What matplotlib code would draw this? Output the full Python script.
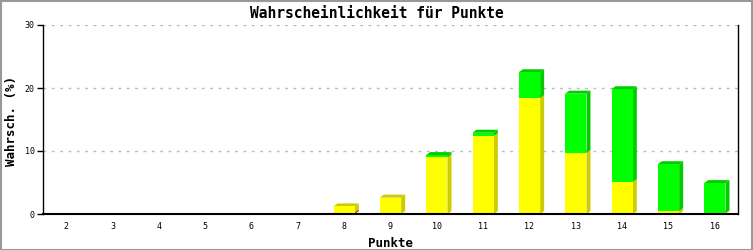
import matplotlib
matplotlib.use("Agg")
import matplotlib.pyplot as plt
from matplotlib.patches import Polygon, Rectangle
import numpy as np

# data (percent)
punkte = [2, 3, 4, 5, 6, 7, 8, 9, 10, 11, 12, 13, 14, 15, 16]
rot = [0, 0, 0, 0, 0, 0, 0.2, 0, 0, 0, 0, 0, 0, 0, 0]
gelb = [0, 0, 0, 0, 0, 0, 1.0, 2.6, 9.0, 12.4, 18.4, 9.7, 5.1, 0.5, 0.15]
gruen = [0, 0, 0, 0, 0, 0, 0, 0, 0.35, 0.5, 4.1, 9.4, 14.7, 7.4, 4.75]

series = [(rot, "#ff0000", "#cc0000"),
          (gelb, "#ffff00", "#cccc00"),
          (gruen, "#00ff00", "#00cc00")]

W, H = 753, 250
fig = plt.figure(figsize=(W / 100, H / 100), dpi=100)
fig.patch.set_facecolor("white")
# gray frame around the picture
fig.add_artist(Rectangle((0.5 / W, 0.5 / H), 1 - 1.5 / W, 1 - 1.5 / H,
                         transform=fig.transFigure, fill=False,
                         edgecolor="#999999", lw=1.5))

ax = fig.add_axes([43 / W, 36 / H, 695 / W, 189 / H])
ax.set_xlim(-0.5, len(punkte) - 0.5)
ax.set_ylim(0, 30)

# depth of the fake 3d effect: 4px right, 3px up
dx = 4 / (695 / len(punkte))
dy = 3 / (189 / 30)
bw = 0.46

z = 2
x = np.arange(len(punkte))
for i in x:
    bottom = 0
    for vals, col, dark in series:
        v = vals[i]
        if v <= 0:
            continue
        x0, x1 = i - bw / 2, i + bw / 2
        y0, y1 = bottom, bottom + v
        ax.add_patch(Polygon([(x1, y0), (x1 + dx, y0 + dy), (x1 + dx, y1 + dy), (x1, y1)],
                             closed=True, facecolor=dark, edgecolor="none", zorder=z))
        ax.add_patch(Polygon([(x0, y1), (x0 + dx, y1 + dy), (x1 + dx, y1 + dy), (x1, y1)],
                             closed=True, facecolor=dark, edgecolor="none", zorder=z))
        ax.add_patch(Rectangle((x0, y0), bw, v, facecolor=col, edgecolor="none", zorder=z + 0.5))
        z += 1
        bottom = y1

mono = "DejaVu Sans Mono"
ax.set_xticks(x)
ax.set_xticklabels([str(p) for p in punkte], fontsize=6, family=mono)
ax.set_yticks([0, 10, 20, 30])
ax.set_yticklabels(["0", "10", "20", "30"], fontsize=6, family=mono)
ax.tick_params(axis="x", length=0, pad=6)
ax.tick_params(axis="y", length=4, width=1, pad=2, direction="out")

for y in [10, 20, 30]:
    ax.axhline(y, color="#bbbbbb", lw=1, ls=(0, (2, 4)), zorder=1)

ax.spines["top"].set_visible(False)
ax.spines["bottom"].set_linewidth(1.5)
ax.spines["left"].set_linewidth(1)
ax.spines["right"].set_linewidth(1)
ax.spines["bottom"].set_zorder(50)

ax.set_xlabel("Punkte", fontsize=9, family=mono, fontweight="bold", labelpad=4)
fig.text(12 / W, 1 - 121 / H, "Wahrsch. (%)", rotation=90, ha="center", va="center",
         fontsize=9, family=mono, fontweight="bold")
fig.text(0.5, 1 - 13 / H, "Wahrscheinlichkeit für Punkte", ha="center", va="center",
         fontsize=10.5, family=mono, fontweight="bold")

fig.savefig("out.png", dpi=100)
